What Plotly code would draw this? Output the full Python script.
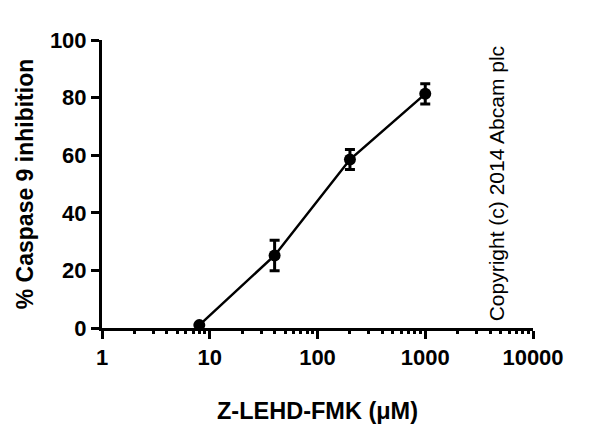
import plotly.graph_objects as go

concentration_uM = [8, 40, 200, 1000]
inhibition_pct = [1.0, 25.2, 58.5, 81.3]
error_pct = [0.0, 5.3, 3.5, 3.5]

x_tickvals = [1, 10, 100, 1000, 10000]
x_ticktext = ["1", "10", "100", "1000", "10000"]
x_minor_vals = [m * d for d in [1, 10, 100, 1000] for m in range(2, 10)]
y_tickvals = [0, 20, 40, 60, 80, 100]
y_ticktext = ["0", "20", "40", "60", "80", "100"]

fig = go.Figure()
fig.add_trace(go.Scatter(
    x=concentration_uM, y=inhibition_pct,
    mode="lines+markers",
    line=dict(color="black", width=2.5),
    marker=dict(color="black", size=12, symbol="circle"),
    error_y=dict(type="data", array=error_pct, visible=True, color="black",
                 thickness=3, width=5),
    cliponaxis=False,
    showlegend=False,
))
fig.add_trace(go.Scatter(x=[1, 10000], y=[0, 0], xaxis="x2", mode="none",
                         showlegend=False, hoverinfo="skip"))

fnt = "Liberation Sans, Arial, sans-serif"
fig.update_layout(
    width=600, height=439,
    margin=dict(l=102, r=67, t=40, b=111),
    paper_bgcolor="white", plot_bgcolor="white",
    font=dict(family=fnt, color="black"),
    xaxis=dict(
        type="log", range=[0, 4],
        tickmode="array",
        tickvals=x_tickvals, ticktext=["<b>%s</b>" % t for t in x_ticktext],
        showline=True, linecolor="black", linewidth=3,
        ticks="outside", ticklen=8, tickwidth=3, tickcolor="black",
        showgrid=False, zeroline=False,
        tickfont=dict(size=22, family=fnt),
        title=dict(text="<b>Z-LEHD-FMK (\u03bcM)</b>", standoff=34,
                   font=dict(size=23.5, family=fnt)),
    ),
    xaxis2=dict(
        type="log", range=[0, 4], overlaying="x", side="bottom",
        anchor="y", tickmode="array",
        tickvals=x_minor_vals, ticktext=[""] * len(x_minor_vals),
        ticks="outside", ticklen=5, tickwidth=2.5, tickcolor="black",
        showline=False, showgrid=False, zeroline=False,
    ),
    yaxis=dict(
        range=[0, 100],
        tickvals=y_tickvals, ticktext=["<b>%s</b>" % t for t in y_ticktext],
        showline=True, linecolor="black", linewidth=3,
        ticks="outside", ticklen=8, tickwidth=3, tickcolor="black",
        showgrid=False, zeroline=False,
        tickfont=dict(size=22, family=fnt),
        title=dict(text="<b>% Caspase 9 inhibition</b>", standoff=10,
                   font=dict(size=23, family=fnt)),
    ),
    annotations=[dict(
        text="Copyright (c) 2014 Abcam plc",
        xref="paper", yref="paper", x=0.915, y=0.5,
        xanchor="center", yanchor="middle",
        textangle=-90, showarrow=False,
        font=dict(size=21, family=fnt, color="black"),
    )],
)

fig.write_html("out.html")
